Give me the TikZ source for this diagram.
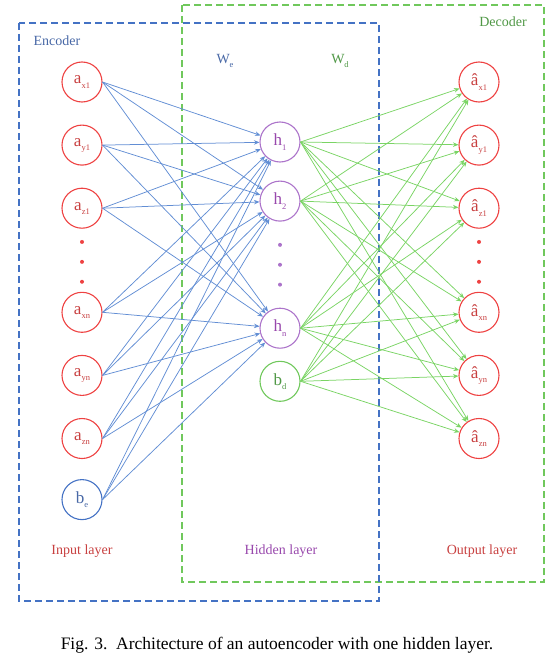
\documentclass[tikz,border=0pt]{standalone}
\usepackage{fontspec}
\setmainfont{Liberation Serif}
\usepackage{tikz}
\usetikzlibrary{bayesnet}
\usetikzlibrary{positioning}
\usetikzlibrary{arrows.meta}

\definecolor{inred}{RGB}{238,66,66}
\definecolor{inredtext}{RGB}{200,64,64}
\definecolor{encblue}{RGB}{68,114,196}
\definecolor{encbluetext}{RGB}{72,104,166}
\definecolor{edgeblue}{RGB}{98,142,212}
\definecolor{decgreen}{RGB}{112,200,92}
\definecolor{decgreentext}{RGB}{80,152,70}
\definecolor{edgegreen}{RGB}{122,212,100}
\definecolor{hidpurple}{RGB}{172,116,202}
\definecolor{hidpurpletext}{RGB}{152,72,172}

\newcommand{\nlbl}[2]{#1\raisebox{-0.55ex}{\fontsize{8.5}{8.5}\selectfont #2}}

\tikzset{
  neuron/.style={circle, draw, line width=1.1pt, minimum size=40pt, inner sep=0pt,
    font=\fontsize{17}{17}\selectfont},
  innode/.style={neuron, draw=inred, text=inredtext},
  hidnode/.style={neuron, draw=hidpurple, text=hidpurpletext},
  encbias/.style={neuron, draw=encblue, text=encbluetext},
  decbias/.style={neuron, draw=decgreen, text=decgreentext},
  vdot/.style={circle, fill=#1, draw=none, inner sep=0pt, minimum size=4pt},
  encedge/.style={draw=edgeblue, line width=0.75pt, -{Stealth[length=5.5pt,width=4.5pt]}},
  decedge/.style={draw=edgegreen, line width=0.75pt, -{Stealth[length=5.5pt,width=4.5pt]}},
  groupbox/.style={line width=1.7pt, dash pattern=on 7pt off 4pt},
  layerlabel/.style={font=\fontsize{14}{14}\selectfont},
}

\begin{document}
\begin{tikzpicture}[x=1pt, y=-1pt, node distance=22pt]
    \useasboundingbox (0,0) rectangle (554,661);

    % Encoder and decoder boxes
    \draw[groupbox, draw=decgreen] (182,5) rectangle (544,582);
    \draw[groupbox, draw=encblue] (19,23) rectangle (379,601);

    % Input layer
    \node[innode] (ax1) at (82,82) {\nlbl{a}{x1}};
    \node[innode, below=of ax1] (ay1) {\nlbl{a}{y1}};
    \node[innode, below=of ay1] (az1) {\nlbl{a}{z1}};
    \node[vdot=inred, below=11pt of az1] (indot1) {};
    \node[vdot=inred, below=15.5pt of indot1] (indot2) {};
    \node[vdot=inred, below=15.5pt of indot2] (indot3) {};
    \node[innode, below=63pt of az1] (axn) {\nlbl{a}{xn}};
    \node[innode, below=of axn] (ayn) {\nlbl{a}{yn}};
    \node[innode, below=of ayn] (azn) {\nlbl{a}{zn}};
    \node[encbias, below=20pt of azn] (be) {\nlbl{b}{e}};

    % Hidden layer
    \node[hidnode] (h1) at (280,142) {\nlbl{h}{1}};
    \node[hidnode, below=18pt of h1] (h2) {\nlbl{h}{2}};
    \node[vdot=hidpurple, below=21pt of h2] (hdot1) {};
    \node[vdot=hidpurple, below=15.5pt of hdot1] (hdot2) {};
    \node[vdot=hidpurple, below=15.5pt of hdot2] (hdot3) {};
    \node[hidnode, below=86pt of h2] (hn) {\nlbl{h}{n}};
    \node[decbias, below=12pt of hn] (bd) {\nlbl{b}{d}};

    % Output layer
    \node[innode] (ox1) at (479,82) {\nlbl{\^{a}}{x1}};
    \node[innode, below=of ox1] (oy1) {\nlbl{\^{a}}{y1}};
    \node[innode, below=of oy1] (oz1) {\nlbl{\^{a}}{z1}};
    \node[vdot=inred, below=11pt of oz1] (outdot1) {};
    \node[vdot=inred, below=15.5pt of outdot1] (outdot2) {};
    \node[vdot=inred, below=15.5pt of outdot2] (outdot3) {};
    \node[innode, below=63pt of oz1] (oxn) {\nlbl{\^{a}}{xn}};
    \node[innode, below=of oxn] (oyn) {\nlbl{\^{a}}{yn}};
    \node[innode, below=of oyn] (ozn) {\nlbl{\^{a}}{zn}};

    % Labels
    \node[layerlabel, text=encbluetext] (enclabel) at (57,41) {Encoder};
    \node[layerlabel, text=decgreentext] (declabel) at (503,22) {Decoder};
    \node[font=\fontsize{14}{14}\selectfont, text=encbluetext] (we) at (225,61) {\nlbl{W}{e}};
    \node[font=\fontsize{14}{14}\selectfont, text=decgreentext] (wd) at (340,61) {\nlbl{W}{d}};
    \node[layerlabel, text=inredtext] (inlabel) at (82,551) {Input layer};
    \node[layerlabel, text=hidpurpletext] (hidlabel) at (281,551) {Hidden layer};
    \node[layerlabel, text=inredtext] (outlabel) at (482,551) {Output layer};
    \node[font=\fontsize{17.5}{17.5}\selectfont] (caption) at (277,645)
      {Fig. 3.\ \ Architecture of an autoencoder with one hidden layer.};

    % Connect the nodes
    \edge[encedge] {ax1.east, ay1.east, az1.east, axn.east, ayn.east, azn.east, be.east} {h1, h2, hn} ;
    \edge[decedge] {h1.east, h2.east, hn.east, bd.east} {ox1, oy1, oz1, oxn, oyn, ozn} ;
  \end{tikzpicture}
\end{document}
